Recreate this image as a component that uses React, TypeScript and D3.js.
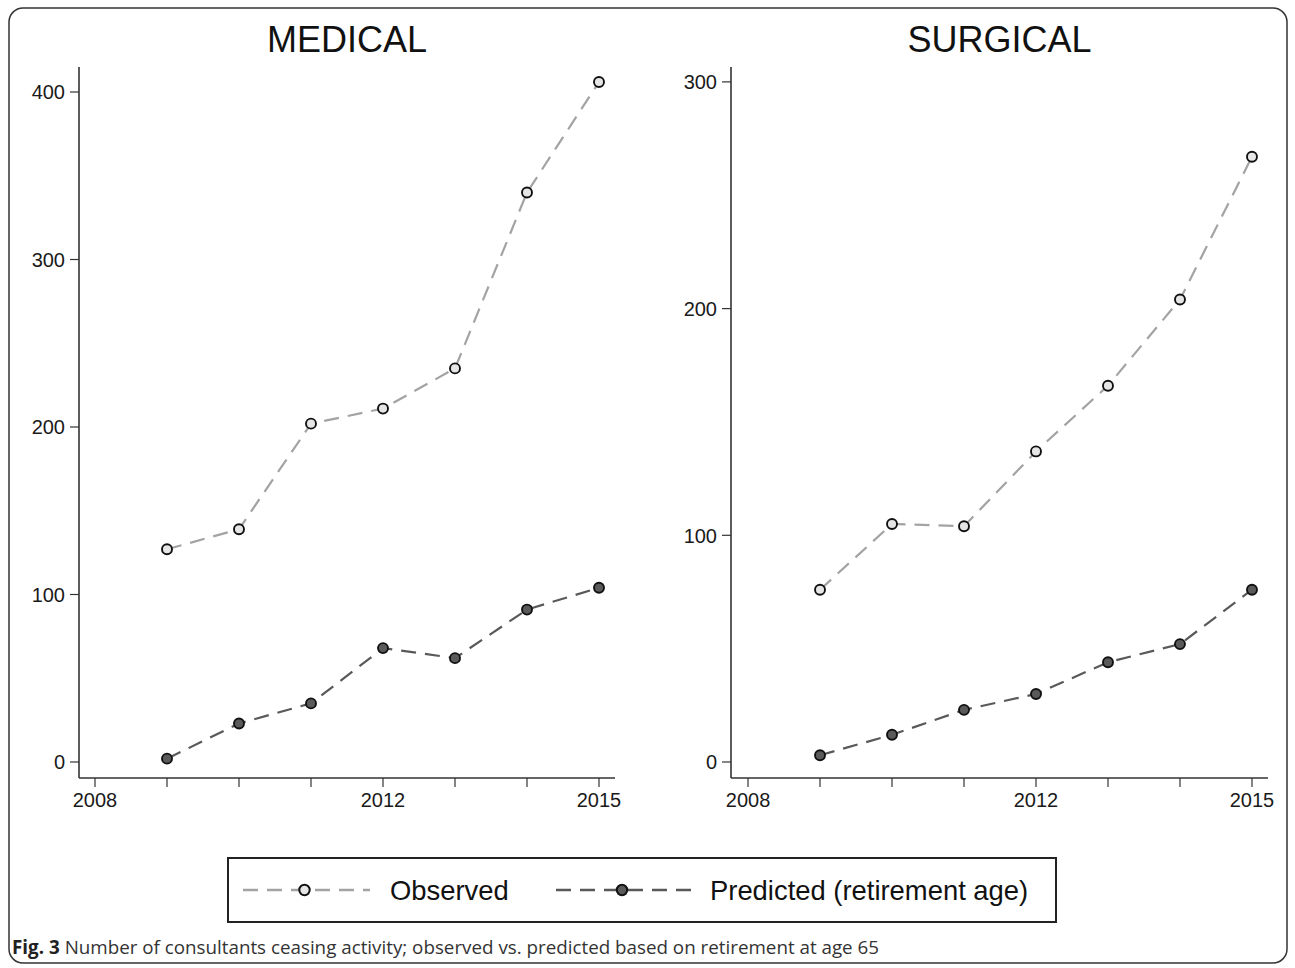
import React from "react";
import * as d3 from "d3";

const years = [2009, 2010, 2011, 2012, 2013, 2014, 2015];
const xTickYears = [2008, 2009, 2010, 2011, 2012, 2013, 2014, 2015];
const xLabelYears = [2008, 2012, 2015];

const medicalObserved = [127, 139, 202, 211, 235, 340, 406];
const medicalPredicted = [2, 23, 35, 68, 62, 91, 104];
const medicalYTicks = [0, 100, 200, 300, 400];

const surgicalObserved = [76, 105, 104, 137, 166, 204, 267];
const surgicalPredicted = [3, 12, 23, 30, 44, 52, 76];
const surgicalYTicks = [0, 100, 200, 300];

const seriesNames = ["Observed", "Predicted (retirement age)"];
const caption = "Number of consultants ceasing activity; observed vs. predicted based on retirement at age 65";

const OBS_LINE = "#a3a3a3";
const OBS_FILL = "#e6e6e6";
const PRED_LINE = "#595959";
const PRED_FILL = "#5a5a5a";
const FONT = "'Liberation Sans', Arial, sans-serif";

type PanelProps = {
  title: string;
  left: number;
  right: number;
  top: number;
  bottom: number;
  xDomain: [number, number];
  yDomain: [number, number];
  yTicks: number[];
  observed: number[];
  predicted: number[];
};

function Panel(p: PanelProps) {
  const x = d3.scaleLinear().domain(p.xDomain).range([p.left, p.right]);
  const y = d3.scaleLinear().domain(p.yDomain).range([p.bottom, p.top]);
  const line = d3
    .line<number>()
    .x((_, i) => x(years[i]))
    .y((d) => y(d));
  const series = [
    { data: p.observed, stroke: OBS_LINE, fill: OBS_FILL },
    { data: p.predicted, stroke: PRED_LINE, fill: PRED_FILL },
  ];
  return (
    <g>
      <text
        x={(p.left + p.right) / 2}
        y={52}
        textAnchor="middle"
        fontSize={36}
        fontFamily={FONT}
        fill="#111"
      >
        {p.title}
      </text>
      <line x1={p.left} x2={p.left} y1={p.top} y2={p.bottom} stroke="#333" strokeWidth={1.6} />
      <line x1={p.left} x2={p.right} y1={p.bottom} y2={p.bottom} stroke="#333" strokeWidth={1.6} />
      {p.yTicks.map((t) => (
        <g key={"y" + t}>
          <line x1={p.left - 9} x2={p.left} y1={y(t)} y2={y(t)} stroke="#333" strokeWidth={1.2} />
          <text
            x={p.left - 14}
            y={y(t)}
            dy="0.36em"
            textAnchor="end"
            fontSize={20}
            fontFamily={FONT}
            fill="#1a1a1a"
          >
            {t}
          </text>
        </g>
      ))}
      {xTickYears.map((t) => (
        <line key={"x" + t} x1={x(t)} x2={x(t)} y1={p.bottom} y2={p.bottom + 9} stroke="#333" strokeWidth={1.2} />
      ))}
      {xLabelYears.map((t) => (
        <text
          key={"xl" + t}
          x={x(t)}
          y={p.bottom + 29}
          textAnchor="middle"
          fontSize={20}
          fontFamily={FONT}
          fill="#1a1a1a"
        >
          {t}
        </text>
      ))}
      {series.map((s, si) => (
        <g key={"s" + si}>
          <path
            d={line(s.data) || ""}
            fill="none"
            stroke={s.stroke}
            strokeWidth={2.2}
            strokeDasharray="15 9"
          />
          {s.data.map((v, i) => (
            <circle
              key={i}
              cx={x(years[i])}
              cy={y(v)}
              r={5}
              fill={s.fill}
              stroke="#111"
              strokeWidth={1.9}
            />
          ))}
        </g>
      ))}
    </g>
  );
}

export default function App() {
  return (
    <svg
      width={1295}
      height={968}
      style={{ position: "absolute", left: 0, top: 0, background: "#fff" }}
    >
      <rect x={9} y={8} width={1278} height={955} rx={14} ry={14} fill="none" stroke="#333" strokeWidth={1.5} />
      <Panel
        title="MEDICAL"
        left={79}
        right={615}
        top={67}
        bottom={778}
        xDomain={[2008 - 16 / 72, 2015 + 16 / 72]}
        yDomain={[-16 / 1.675, 695 / 1.675]}
        yTicks={medicalYTicks}
        observed={medicalObserved}
        predicted={medicalPredicted}
      />
      <Panel
        title="SURGICAL"
        left={731}
        right={1268}
        top={67}
        bottom={778}
        xDomain={[2008 - 17 / 71.9, 2015 + 16 / 71.9]}
        yDomain={[-16 / 2.267, 695 / 2.267]}
        yTicks={surgicalYTicks}
        observed={surgicalObserved}
        predicted={surgicalPredicted}
      />
      <rect x={228} y={858} width={828} height={64} fill="#fff" stroke="#222" strokeWidth={2} />
      {[
        { x1: 243, x2: 370, stroke: OBS_LINE, fill: OBS_FILL, tx: 390 },
        { x1: 556, x2: 692, stroke: PRED_LINE, fill: PRED_FILL, tx: 710 },
      ].map((l, i) => (
        <g key={"lg" + i}>
          <line x1={l.x1} x2={l.x2} y1={890} y2={890} stroke={l.stroke} strokeWidth={2.4} strokeDasharray="15 9" />
          <circle cx={(l.x1 + l.x2) / 2 - 2} cy={890} r={5.2} fill={l.fill} stroke="#111" strokeWidth={2} />
          <text x={l.tx} y={890} dy="0.36em" fontSize={27.4} fontFamily={FONT} fill="#111">
            {seriesNames[i]}
          </text>
        </g>
      ))}
      <text x={12} y={954} fontSize={18.8} fontFamily="'Open Sans', sans-serif" fill="#333">
        <tspan fontWeight="bold" fill="#222">Fig. 3</tspan>
        <tspan dx={5}>{caption}</tspan>
      </text>
    </svg>
  );
}
